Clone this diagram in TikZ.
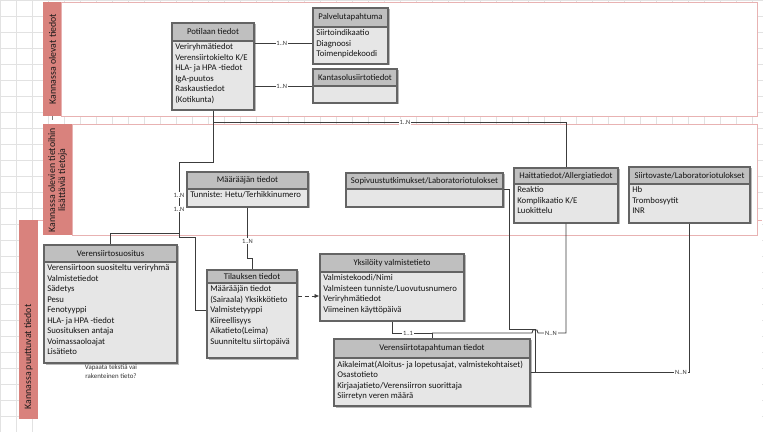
\documentclass[tikz,border=0pt]{standalone}
\usepackage{fontspec}
\setmainfont{Carlito}
\usetikzlibrary{fit,calc,arrows.meta}
\definecolor{headfill}{RGB}{191,191,191}
\definecolor{bodyfill}{RGB}{230,230,230}
\definecolor{boxline}{RGB}{100,100,100}
\definecolor{barcol}{RGB}{217,130,125}
\definecolor{lanecol}{RGB}{232,178,178}
\definecolor{gridcol}{RGB}{226,226,226}
\definecolor{linecol}{RGB}{60,60,60}
\tikzset{
  boxshape/.style={draw=boxline, line width=0.8pt, inner sep=0pt, rectangle},
  boxfont/.style={font=\fontsize{6.2}{7.47}\selectfont, inner sep=0pt, text=black!92},
  conn/.style={draw=linecol, line width=0.6pt},
  mult/.style={fill=white, inner sep=0.6pt, font=\fontsize{4.6}{5}\selectfont, text=black!80},
  lanelabel/.style={rotate=90, font=\fontsize{7}{7.2}\selectfont, align=center, text=black!90, inner sep=0pt}
}
\newcommand{\erbox}[8]{%
  \fill[gray!55] (#2+1.5,#3+1.5) rectangle (#4+1.5,#5+1.5);
  \node[boxshape, fill=bodyfill, fit={(#2,#3)(#4,#5)}] (#1) {};
  \node[boxshape, fill=headfill, fit={(#2,#3)(#4,#6)}] (#1h) {};
  \node[boxfont] (#1ti) at (#1h.center) {#7};
  \node[boxfont, anchor=north west, align=left] (#1t) at (#2+3,#6+2.5) {#8};
}
\begin{document}
\begin{tikzpicture}[x=0.025cm, y=-0.025cm]
\useasboundingbox (0,0) rectangle (763,432);
% background grid
\foreach \i in {0,16,...,768} \draw[gridcol, line width=0.3pt] (\i,0) -- (\i,432);
\foreach \j in {0,16,...,432} \draw[gridcol, line width=0.3pt] (0,\j) -- (763,\j);
% lanes
\fill[white] (38,220) rectangle (762,432);
\draw[lanecol, line width=0.6pt] (38,220) -- (762,220);
\draw[lanecol, fill=white, line width=0.6pt] (61,2) rectangle (757,116);
\draw[lanecol, fill=white, line width=0.6pt] (72,124) rectangle (757,235);
\fill[barcol] (43,2) rectangle (61,116);
\fill[barcol] (43,124) rectangle (72,235);
\fill[barcol] (19,220) rectangle (38,419);
\draw[gray, dashed, line width=0.4pt] (52,116) -- (52,124);
\node[lanelabel] (lane1) at (52.5,59) {Kannassa olevat tiedot};
\node[lanelabel] (lane2) at (57.5,180) {Kannassa olevien tietoihin\\lisättäviä tietoja};
\node[lanelabel] (lane3) at (28.5,357) {Kannassa puuttuvat tiedot};
% boxes
\erbox{pot}{172}{23}{254}{110}{41}{Potilaan tiedot}{Veriryhmätiedot\\Verensiirtokielto K/E\\HLA- ja HPA -tiedot\\IgA-puutos\\Raskaustiedot\\(Kotikunta)}
\erbox{palv}{313}{8}{388}{64}{27}{Palvelutapahtuma}{Siirtoindikaatio\\Diagnoosi\\Toimenpidekoodi}
\erbox{kanta}{313}{69}{397}{103}{86}{Kantasolusiirtotiedot}{}
\erbox{maar}{187}{172}{308}{207}{189}{Määrääjän tiedot}{Tunniste: Hetu/Terhikkinumero}
\erbox{sop}{346}{173}{503}{207}{189}{Sopivuustutkimukset/Laboratoriotulokset}{}
\erbox{haitta}{514}{168}{618}{223}{184}{Haittatiedot/Allergiatiedot}{Reaktio\\Komplikaatio K/E\\Luokittelu}
\erbox{siir}{629}{167}{750}{223}{184}{Siirtovaste/Laboratoriotulokset}{Hb\\Trombosyytit\\INR}
\erbox{suos}{44}{245}{177}{363}{262}{Verensiirtosuositus}{Verensiirtoon suositeltu veriryhmä\\Valmistetiedot\\Sädetys\\Pesu\\Fenotyyppi\\HLA- ja HPA -tiedot\\Suosituksen antaja\\Voimassaoloajat\\Lisätieto}
\erbox{til}{207}{270}{297}{358}{283}{Tilauksen tiedot}{Määrääjän tiedot\\(Sairaala) Yksikkötieto\\Valmistetyyppi\\Kiireellisyys\\Aikatieto(Leima)\\Suunniteltu siirtopäivä}
\erbox{yks}{320}{254}{464}{321}{272}{Yksilöity valmistetieto}{Valmistekoodi/Nimi\\Valmisteen tunniste/Luovutusnumero\\Veriryhmätiedot\\Viimeinen käyttöpäivä}
\erbox{vts}{334}{339}{530}{406}{358}{Verensiirtotapahtuman tiedot}{Aikaleimat(Aloitus- ja lopetusajat, valmistekohtaiset)\\Osastotieto\\Kirjaajatieto/Verensiirron suorittaja\\Siirretyn veren määrä}
\node[font=\fontsize{4.9}{6.4}\selectfont, align=center, inner sep=0pt, text=black!80] (note) at (111,372) {Vapaata tekstiä vai\\rakenteinen tieto?};
% connectors
\draw[conn] (pot.east |- 0,43) -- (palv.west |- 0,43) node[mult, pos=0.47] (m1) {1..N};
\draw[conn] (pot.east |- kanta.west) -- (kanta.west) node[mult, pos=0.47] (m2) {1..N};
\draw[conn] (pot.south) |- (haitta.north |- 0,122) -- (haitta.north);
\node[mult] (m3) at (405,122) {1..N};
\draw[conn] (pot.south) -- (213,162) -- (179,162) -- (179,233) -| (suos.north);
\draw[conn] (pot.south) -- (213,162) -- (179,162) -- (179,237) -- (195,237) |- (til.west |- 0,310);
\node[mult] (m4) at (179,195) {1..N};
\node[mult] (m5) at (179,209) {1..N};
\draw[conn] (maar.south) -- (247.5,258) -- (252,258) -- (til.north);
\node[mult] (m6) at (247.5,241) {1..N};
\draw[conn, dash pattern=on 3pt off 2pt, -{Latex[length=3.5pt,width=3pt]}] (til.east |- 0,296) -- (yks.west |- 0,296);
\draw[conn] (yks.south) |- (vts.north |- 0,333) -- (vts.north);
\node[mult] (m7) at (408,333) {1..1};
\draw[conn] (haitta.south) |- (538,333) -- (537,330) -- (533,330) -- (532,333) -- (vts.north |- 0,333);
\node[mult] (m8) at (551,333) {N..N};
\draw[conn] (sop.east |- 0,189) -- (509,189) -- (509,329) -- (535,329) -- (535,372) -- (vts.east |- 0,372);
\draw[conn] (siir.south) -- (689.5,372) -- (vts.east |- 0,372);
\node[mult] (m9) at (681,372) {N..N};
\end{tikzpicture}
\end{document}
